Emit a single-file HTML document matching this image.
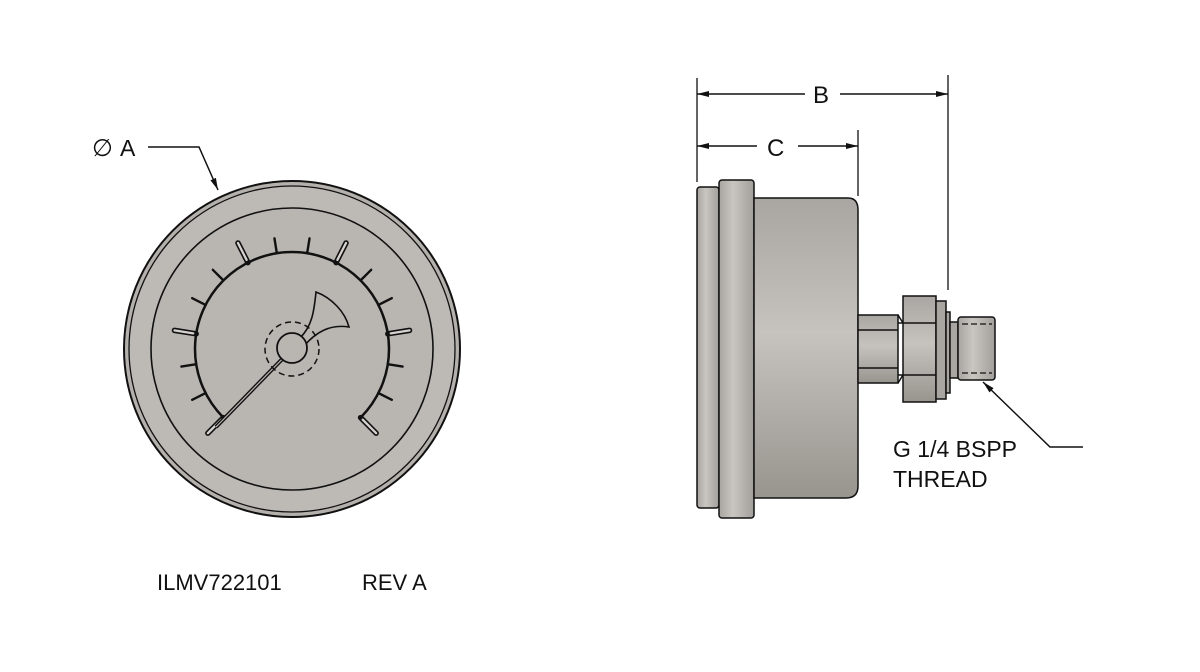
<!DOCTYPE html>
<html><head><meta charset="utf-8"><style>
html,body{margin:0;padding:0;background:#fff;}
svg{display:block}
text{font-family:"Liberation Sans",sans-serif;fill:#111;}
</style></head><body>
<svg id="s" width="1200" height="672" viewBox="0 0 1200 672" xmlns="http://www.w3.org/2000/svg">
<defs>
<linearGradient id="bg" x1="0" y1="0" x2="0" y2="1">
<stop offset="0" stop-color="#a9a6a2"/><stop offset="0.45" stop-color="#c6c3bf"/><stop offset="1" stop-color="#98958f"/>
</linearGradient>
<linearGradient id="fg" x1="0" y1="0" x2="1" y2="0">
<stop offset="0" stop-color="#a8a5a1"/><stop offset="0.4" stop-color="#c9c6c2"/><stop offset="1" stop-color="#a29f9b"/>
</linearGradient>
<marker id="ar" viewBox="0 0 12 6" refX="12" refY="3" markerWidth="12" markerHeight="6" orient="auto" markerUnits="userSpaceOnUse"><path d="M0,0 L12,3 L0,6 z" fill="#111"/></marker>
</defs>
<g stroke="#111" stroke-width="1.5" fill="none">
<circle cx="292" cy="349" r="168" fill="#b4b1ad" stroke-width="2"/>
<circle cx="292" cy="349" r="163" fill="#bdbab6" stroke-width="1.3"/>
<circle cx="292" cy="349" r="141" fill="#b9b6b2" stroke-width="1.6"/>
<path d="M223.4,417.6 A97,97 0 1 1 360.6,417.6" stroke-width="2.5"/>
<g id="ticks" stroke-width="1.8"></g>
<line x1="292" y1="349" x2="216" y2="427" stroke-width="4"/>
<line x1="292" y1="349" x2="216" y2="427" stroke="#b9b6b2" stroke-width="1.2"/>
<path d="M300,338 C312,326 314,312 316,292 C332,298 345,312 349,327 C330,324 316,332 304,346 Z" fill="#b9b6b2" stroke-width="1.6"/>
<circle cx="292" cy="349" r="27" stroke-dasharray="6,4" stroke-width="1.5"/>
<circle cx="292" cy="348" r="15" fill="#b9b6b2" stroke-width="1.8"/>
<path d="M148,147 L199,147 L218,190" marker-end="url(#ar)"/>
<rect x="697" y="187" width="22" height="321" rx="3" fill="url(#fg)"/>
<rect x="719" y="180" width="35" height="338" rx="3" fill="url(#fg)"/>
<path d="M754,198 L848,198 Q858,198 858,210 L858,486 Q858,498 846,498 L754,498 Z" fill="url(#bg)"/>
<rect x="858" y="315" width="40" height="68" fill="url(#bg)"/>
<line x1="858" y1="330" x2="898" y2="330"/><line x1="858" y1="368" x2="898" y2="368"/>
<rect x="903" y="296" width="33" height="106" fill="url(#bg)"/>
<line x1="898" y1="323" x2="936" y2="323"/><line x1="898" y1="375" x2="936" y2="375"/>
<line x1="898" y1="315" x2="903" y2="323"/><line x1="898" y1="383" x2="903" y2="375"/>
<rect x="936" y="301" width="10" height="98" fill="#a9a6a2"/>
<rect x="946" y="312" width="4" height="81" fill="#a9a6a2"/>
<rect x="950" y="322" width="8" height="56" fill="#a9a6a2"/>
<rect x="958" y="317" width="37" height="63" rx="3" fill="url(#fg)"/>
<line x1="962" y1="324" x2="992" y2="324" stroke-dasharray="6,3" stroke-width="1.2"/>
<line x1="962" y1="373" x2="992" y2="373" stroke-dasharray="6,3" stroke-width="1.2"/>
<line x1="697" y1="78" x2="697" y2="182" stroke-width="1.3"/>
<line x1="948" y1="75" x2="948" y2="290" stroke-width="1.3"/>
<line x1="858" y1="130" x2="858" y2="196" stroke-width="1.3"/>
<line x1="805" y1="94" x2="697" y2="94" marker-end="url(#ar)"/>
<line x1="840" y1="94" x2="948" y2="94" marker-end="url(#ar)"/>
<line x1="757" y1="146" x2="697" y2="146" marker-end="url(#ar)"/>
<line x1="798" y1="146" x2="858" y2="146" marker-end="url(#ar)"/>
<path d="M1083,447 L1050,447 L983,382" marker-end="url(#ar)"/>
</g>
<text x="92" y="156" font-size="24">∅</text>
<text x="120" y="156" font-size="23">A</text>
<text x="813" y="103" font-size="24">B</text>
<text x="767" y="156" font-size="24">C</text>
<text x="893" y="457" font-size="23">G 1/4 BSPP</text>
<text x="893" y="487" font-size="23">THREAD</text>
<text x="157" y="590" font-size="22">ILMV722101</text>
<text x="362" y="590" font-size="22">REV A</text>
</svg>
<script>
var g=document.getElementById('ticks'),ns='http://www.w3.org/2000/svg';
for(var i=0;i<=15;i++){var a=(225-18*i)*Math.PI/180;var long=(i%3==0);
var r1=97,r2=long?119:112;var l=document.createElementNS(ns,'line');
l.setAttribute('x1',292+r1*Math.cos(a));l.setAttribute('y1',349-r1*Math.sin(a));
l.setAttribute('x2',292+r2*Math.cos(a));l.setAttribute('y2',349-r2*Math.sin(a));
l.setAttribute('stroke-width',long?'5.5':'2.4');l.setAttribute('stroke-linecap','round');g.appendChild(l);
if(long){var m=l.cloneNode();m.setAttribute('stroke','#d6d3cf');m.setAttribute('stroke-width','2.3');
m.setAttribute('x1',292+(r1+3)*Math.cos(a));m.setAttribute('y1',349-(r1+3)*Math.sin(a));g.appendChild(m);}}
</script>
</body></html>
